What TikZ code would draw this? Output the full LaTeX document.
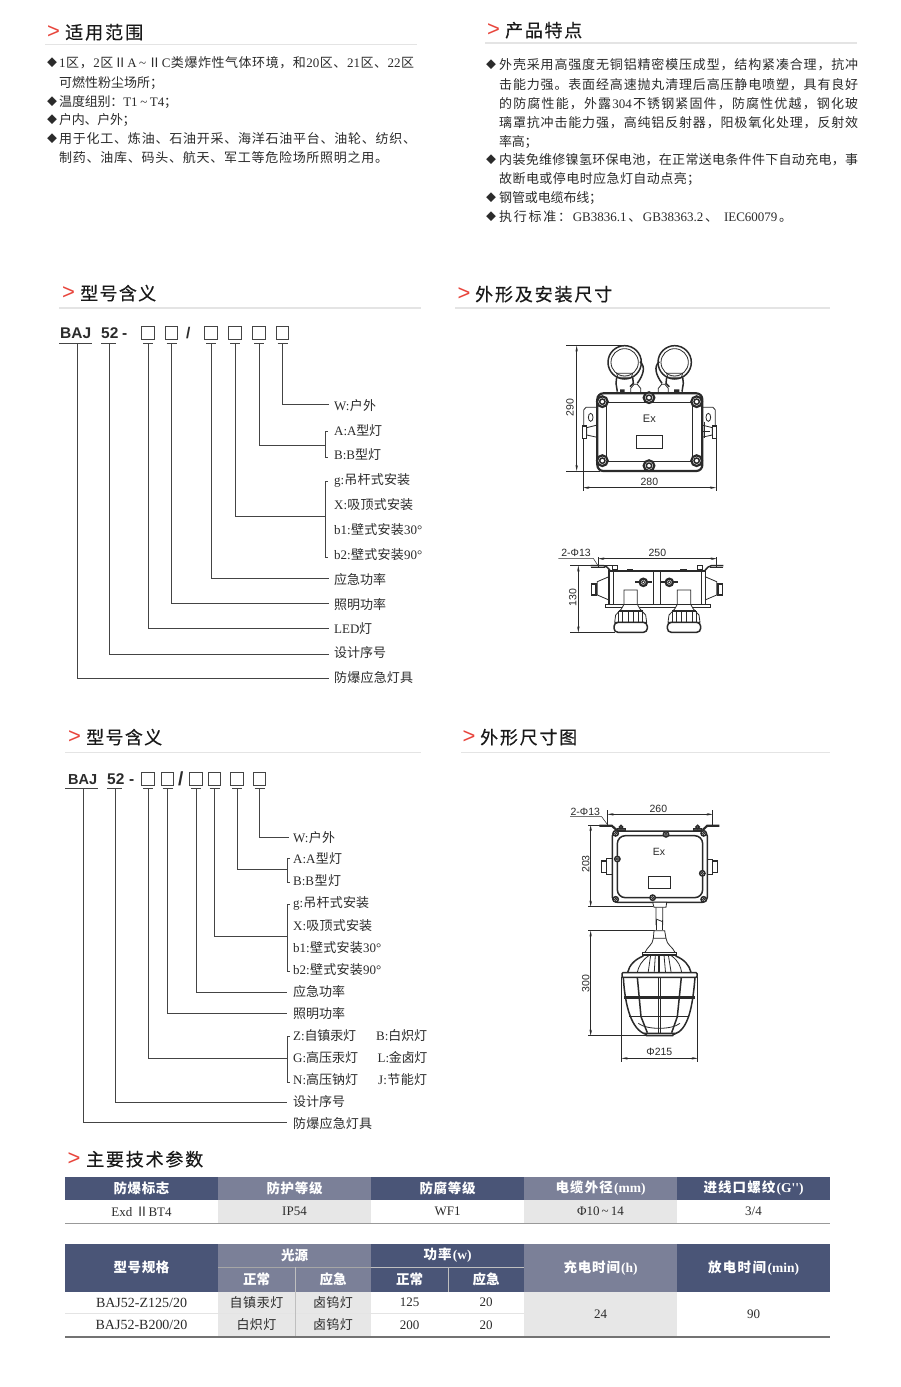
\documentclass[tikz,border=0pt]{standalone}
\usepackage{fontspec}
\usetikzlibrary{arrows.meta}
\setmainfont{Liberation Serif}[Ligatures=TeXOff]
\setsansfont{Liberation Sans}
\newfontfamily\cjk{Noto Sans CJK SC}
\newfontfamily\cjkt{Noto Sans CJK SC}[FakeBold=0.35]
\hbadness=10000 \hfuzz=20pt
\newXeTeXintercharclass\cjkcl
\newcount\ccn
\newcommand\setclassrange[3]{\ccn=#1\relax\loop\XeTeXcharclass\ccn=#3\relax\ifnum\ccn<#2\relax\advance\ccn by 1\repeat}
\setclassrange{"20}{"24F}{0}
\setclassrange{"370}{"3FF}{0}
\setclassrange{"3000}{"30FF}{\cjkcl}
\setclassrange{"4E00}{"9FFF}{\cjkcl}
\setclassrange{"FF00}{"FFEF}{\cjkcl}
\XeTeXcharclass"2161=\cjkcl
\XeTeXcharclass"25C6=\cjkcl
\XeTeXinterchartoks 0 \cjkcl={\cjk\hskip 0pt plus 1pt minus .3pt\relax}
\XeTeXinterchartoks \cjkcl 0={\rmfamily\hskip 0pt plus 1pt minus .3pt\relax}
\XeTeXinterchartoks \cjkcl \cjkcl={\hskip 0pt plus 1pt minus .3pt\relax}
\XeTeXinterchartoks 4095 \cjkcl={\cjk}
\XeTeXinterchartoks \cjkcl 4095={\rmfamily}
\XeTeXinterchartokenstate=1
\definecolor{hd}{HTML}{4A5577}
\definecolor{hm}{HTML}{7B8098}
\definecolor{cg}{HTML}{E7E7E7}
\definecolor{rl}{HTML}{E4E4E4}
\definecolor{red1}{HTML}{E8453C}
\definecolor{tx}{HTML}{2B2B2B}
\definecolor{wire}{HTML}{444444}
\definecolor{art}{HTML}{2A2A2A}
\tikzset{
  bodytxt/.style={anchor=base west,inner sep=0pt,text=tx,font=\fontsize{13}{14}\selectfont},
  diatxt/.style={anchor=center,inner sep=0pt,text=tx,font=\fontsize{10}{11}\selectfont},
  labtxt/.style={anchor=base west,inner sep=0pt,text=tx,font=\fontsize{13}{14}\selectfont},
  ttl/.style={anchor=base west,inner sep=0pt,text=black!90,font=\let\cjk\cjkt\fontsize{18}{19}\selectfont},
  gt/.style={anchor=center,inner sep=0pt,text=red1,font=\sffamily\fontsize{22}{22}\selectfont},
  rul/.style={draw=rl,line width=1.4pt},
  mbox/.style={draw=wire,line width=1pt,fill=white,minimum size=12.5pt,inner sep=0pt},
  bold/.style={anchor=base west,inner sep=0pt,text=tx,font=\sffamily\bfseries\fontsize{15.5}{16}\selectfont},
  conn/.style={draw=wire,line width=1pt},
  ul/.style={draw=wire,line width=1pt},
  cellb/.style={anchor=north west,inner sep=0pt,outer sep=0pt,draw=none,text=tx,font=\fontsize{13}{14}\selectfont},
  hdc/.style={cellb,text=white,font=\bfseries\fontsize{13.5}{14}\selectfont},
  dimt/.style={inner sep=0pt,text=art,font=\sffamily\fontsize{10.5}{11}\selectfont},
  dimn/.style={draw=art,line width=.5pt},
  dima/.style={draw=art,line width=.5pt,{Stealth[length=6pt,width=2.4pt]}-{Stealth[length=6pt,width=2.4pt]}},
  art1/.style={draw=art,line width=.8pt},
  art2/.style={draw=art,line width=1.5pt},
  art3/.style={draw=art,line width=2.2pt},
}
\newcommand\ls[2]{\hbox to #1pt{#2}}
% name x ycentre width text
\newcommand\tl[5]{\node[bodytxt] (#1) at (#2,#3+4.6) {\ls{#4}{#5}};}
\newcommand\dia[3]{\node[diatxt] (#1) at (#2,#3) {◆};}
\newcommand\lab[5]{\node[labtxt] (#1) at (#2,#3+4.6) {\ls{#4}{#5}};}
% name xgt ygt xtext width text
\newcommand\sect[6]{\node[gt] (#1g) at (#2,#3) {>};\node[ttl] (#1) at (#4,#3+7) {\ls{#5}{#6}};}
\newcommand\brk[3]{\draw[conn] (#1+3,#2) -- (#1,#2) -- (#1,#3) -- (#1+3,#3);}
% name x0 y0 x1 y1 style fill text
\newcommand\cell[8]{\pgfmathsetmacro\cw{#4-#2}\pgfmathsetmacro\ch{#5-#3}\node[#6,fill=#7,minimum width=\cw pt,minimum height=\ch pt] (#1) at (#2,#3) {#8};}
\begin{document}
\begin{tikzpicture}[x=1pt,y=-1pt]
\useasboundingbox (0,0) rectangle (900,1387);
\fill[white] (0,0) rectangle (900,1387);
% ---------- section titles
\sect{s1}{53.5}{32}{65}{78}{适用范围}
\draw[rul] (45,44.5) -- (417,44.5);
\sect{s2}{493.5}{30}{505}{77}{产品特点}
\draw[rul] (485,43) -- (857,43);
\sect{s3}{68.5}{293}{80}{76}{型号含义}
\draw[rul] (59,308) -- (421,308);
\sect{s4}{464}{294}{475}{137}{外形及安装尺寸}
\draw[rul] (455,308) -- (830,308);
\sect{s5}{74.5}{737}{86}{76}{型号含义}
\draw[draw=rl,line width=1pt] (65,752) -- (421,752);
\sect{s6}{469}{737}{480}{97}{外形尺寸图}
\draw[draw=rl,line width=1pt] (461,752) -- (830,752);
\sect{s7}{74}{1159}{86}{117}{主要技术参数}
% ---------- left text
\dia{d1}{52}{63}\tl{a1}{59}{63}{355}{1区，2区ⅡA\,\textasciitilde\,ⅡC类爆炸性气体环境，和20区、21区、22区}
\tl{a2}{59}{83}{104}{可燃性粉尘场所；}
\dia{d2}{52}{102}\tl{a3}{59}{102}{118}{温度组别：T1 \textasciitilde{} T4；}
\dia{d3}{52}{120}\tl{a4}{59}{120}{76}{户内、户外；}
\dia{d4}{52}{139}\tl{a5}{59}{139}{357}{用于化工、炼油、石油开采、海洋石油平台、油轮、纺织、}
\tl{a6}{59}{158}{329}{制药、油库、码头、航天、军工等危险场所照明之用。}
% ---------- right text
\dia{e1}{491}{65}\tl{b1}{499}{65}{359}{外壳采用高强度无铜铝精密模压成型，结构紧凑合理，抗冲}
\tl{b2}{499}{85}{359}{击能力强。表面经高速抛丸清理后高压静电喷塑，具有良好}
\tl{b3}{499}{104}{359}{的防腐性能，外露304不锈钢紧固件，防腐性优越，钢化玻}
\tl{b4}{499}{123}{359}{璃罩抗冲击能力强，高纯铝反射器，阳极氧化处理，反射效}
\tl{b5}{499}{142}{34}{率高；}
\dia{e2}{491}{160}\tl{b6}{499}{160}{359}{内装免维修镍氢环保电池，在正常送电条件件下自动充电，事}
\tl{b7}{499}{179}{201}{故断电或停电时应急灯自动点亮；}
\dia{e3}{491}{198}\tl{b8}{499}{198}{103}{钢管或电缆布线；}
\dia{e4}{491}{217}\tl{b9}{499}{217}{293}{执行标准：GB3836.1、GB38363.2、 IEC60079。}
% ---------- model 1
\node[bold] (m1baj) at (60,338.5) {BAJ};
\node[bold] (m152) at (101,338.5) {52};
\node[bold] (m1dash) at (122,338.5) {-};
\node[bold] (m1sl) at (186,338.5) {/};
\foreach \n/\x in {p1/148,p2/171.5,p3/211,p4/235,p5/259,p6/282.5}
  \node[mbox] (\n) at (\x,333) {};
\coordinate (u00) at (109.5,343);
\coordinate (u0) at (77,343);
\draw[ul] (59,343) -- (92,343);
\draw[ul] (101,343) -- (116,343);
\foreach \n in {p1,p2,p3,p4,p5,p6}
  \draw[ul] ([xshift=-5pt,yshift=-3.5pt]\n.south) -- ([xshift=5pt,yshift=-3.5pt]\n.south);
\lab{q1}{334}{406}{42}{W:户外}
\lab{q2}{334}{431}{48}{A:A型灯}
\lab{q3}{334}{455}{47}{B:B型灯}
\lab{q4}{334}{480}{76}{g:吊杆式安装}
\lab{q5}{334}{505}{79}{X:吸顶式安装}
\lab{q6}{334}{530}{88}{b1:壁式安装30°}
\lab{q7}{334}{555}{88}{b2:壁式安装90°}
\lab{q8}{334}{580}{52}{应急功率}
\lab{q9}{334}{605}{52}{照明功率}
\lab{q10}{334}{629}{38}{LED灯}
\lab{q11}{334}{653}{52}{设计序号}
\lab{q12}{334}{678}{79}{防爆应急灯具}
\coordinate (c1) at (329,404);
\coordinate (c2) at (325,445);
\coordinate (c3) at (325,516);
\coordinate (c4) at (329,578);
\coordinate (c5) at (329,603);
\coordinate (c6) at (329,628);
\coordinate (c7) at (329,654);
\coordinate (c8) at (329,678);
\brk{325}{431.7}{457}
\brk{325}{481}{557}
\draw[conn] ([yshift=-3.5pt]p6.south) |- (c1);
\draw[conn] ([yshift=-3.5pt]p5.south) |- (c2);
\draw[conn] ([yshift=-3.5pt]p4.south) |- (c3);
\draw[conn] ([yshift=-3.5pt]p3.south) |- (c4);
\draw[conn] ([yshift=-3.5pt]p2.south) |- (c5);
\draw[conn] ([yshift=-3.5pt]p1.south) |- (c6);
\draw[conn] (u00) |- (c7);
\draw[conn] (u0) |- (c8);
% ---------- model 2
\node[bold,font=\sffamily\bfseries\fontsize{14.5}{16}\selectfont] (m2baj) at (68,784.5) {BAJ};
\node[bold] (m252) at (107,784.5) {52};
\node[bold] (m2dash) at (129,784.5) {-};
\node[bold,font=\sffamily\bfseries\fontsize{19}{20}\selectfont] (m2sl) at (178,785.5) {/};
\foreach \n/\x in {r1/148,r2/167.5,r3/196,r4/214.5,r5/237,r6/259.5}
  \node[mbox] (\n) at (\x,779) {};
\coordinate (u2) at (115.5,788);
\coordinate (u3) at (83,788);
\draw[ul] (65,788) -- (98,788);
\draw[ul] (107,788) -- (122,788);
\foreach \n in {r1,r2,r3,r4,r5,r6}
  \draw[ul] ([xshift=-5pt,yshift=-2.5pt]\n.south) -- ([xshift=5pt,yshift=-2.5pt]\n.south);
\lab{t1}{293}{838}{42}{W:户外}
\lab{t2}{293}{859}{49}{A:A型灯}
\lab{t3}{293}{881}{48}{B:B型灯}
\lab{t4}{293}{903}{76}{g:吊杆式安装}
\lab{t5}{293}{926}{79}{X:吸顶式安装}
\lab{t6}{293}{948}{88}{b1:壁式安装30°}
\lab{t7}{293}{970}{88}{b2:壁式安装90°}
\lab{t8}{293}{992}{52}{应急功率}
\lab{t9}{293}{1014}{52}{照明功率}
\lab{t10}{293}{1036}{63}{Z:自镇汞灯}
\lab{t11}{293}{1058}{65}{G:高压汞灯}
\lab{t12}{293}{1080}{65}{N:高压钠灯}
\lab{t13}{376}{1036}{51}{B:白炽灯}
\lab{t14}{377.5}{1058}{49.5}{L:金卤灯}
\lab{t15}{378}{1080}{49}{J:节能灯}
\lab{t16}{293}{1102}{52}{设计序号}
\lab{t17}{293}{1124}{79}{防爆应急灯具}
\coordinate (k1) at (289,837);
\coordinate (k2) at (287,869);
\coordinate (k3) at (287,936);
\coordinate (k4) at (287,992);
\coordinate (k5) at (287,1013);
\coordinate (k6) at (287,1058);
\coordinate (k7) at (287,1102);
\coordinate (k8) at (287,1122);
\brk{287}{858}{882}
\brk{287}{904}{971}
\brk{287}{1036}{1082}
\draw[conn] ([yshift=-2.5pt]r6.south) |- (k1);
\draw[conn] ([yshift=-2.5pt]r5.south) |- (k2);
\draw[conn] ([yshift=-2.5pt]r4.south) |- (k3);
\draw[conn] ([yshift=-2.5pt]r3.south) |- (k4);
\draw[conn] ([yshift=-2.5pt]r2.south) |- (k5);
\draw[conn] ([yshift=-2.5pt]r1.south) |- (k6);
\draw[conn] (u2) |- (k7);
\draw[conn] (u3) |- (k8);
% ---------- figure 1
\begin{scope}[shift={(540,330)},x=.33333pt,y=-.33333pt]
\draw[dimn] (78,47) -- (250,47) (78,423) -- (180,423) (130,290) -- (130,482) (528,290) -- (528,482);
\draw[dima] (110,47) -- (110,423);
\draw[dima] (130,473) -- (528,473);
\node[dimt,rotate=90] (f1a) at (90,232) {290};
\node[dimt] (f1b) at (328,456) {280};
\foreach \c in {254,404}{
  \draw[art2,fill=white] (\c,97) circle (50);
  \draw[art1] (\c,97) circle (41);
  \draw[art1] (\c-24,130) -- (\c+24,130) -- (\c+20,142) -- (\c-20,142) -- cycle;
}
\draw[art2] (230,142) -- (228,160) -- (232,185) (278,142) -- (280,160) -- (270,170);
\draw[art2] (428,142) -- (430,160) -- (426,185) (380,142) -- (378,160) -- (388,170);
\draw[art2] (300,95) .. controls (318,110) and (310,135) .. (292,160);
\draw[art2] (358,95) .. controls (340,110) and (348,135) .. (366,160);
\draw[art1,fill=white] (272,188) -- (272,175) -- (282,163) -- (292,163) -- (302,175) -- (302,188);
\draw[art1,fill=white] (355,188) -- (355,175) -- (365,163) -- (375,163) -- (385,175) -- (385,188);
\fill[art] (240,178) rectangle (254,190) (402,178) rectangle (418,190);
\foreach \t in {0,1}{
\begin{scope}[shift={(\t*657,0)},xscale={1-2*\t}]
\draw[art1] (172,232) -- (138,232) -- (131,240) -- (131,290);
\draw[art1] (152,262) ellipse (7 and 12);
\draw[art1,fill=white] (140,293) -- (172,285) -- (172,322) -- (140,315) -- cycle;
\draw[art2,fill=white] (127,288) rectangle (140,325);
\end{scope}}
\draw[art1] (468,305) -- (510,305) (492,275) -- (492,325);
\draw[art3,fill=white,rounded corners=6pt] (172,190) rectangle (487,423);
\draw[art2] (200,218) rectangle (458,395);
\foreach \bx/\by in {187/215,470/215,187/392,470/392,327/203,327/407}{
  \draw[art3,fill=white] (\bx,\by) circle (16);
  \draw[art2] (\bx,\by) circle (8);
}
\node[dimt,font=\sffamily\fontsize{11}{12}\selectfont] (f1ex) at (328,266) {Ex};
\draw[art1] (290,315) rectangle (367,354);
\end{scope}
% ---------- figure 2
\begin{scope}[shift={(540,535)},x=.33333pt,y=-.33333pt]
\node[dimt] (f2a) at (108,55) {2-Φ13};
\node[dimt] (f2b) at (352,55) {250};
\node[dimt,rotate=90] (f2c) at (98,188) {130};
\draw[dimn] (55,70) -- (160,70) -- (177,97);
\draw[dimn] (175,66) -- (175,100) (530,66) -- (530,100) (90,92) -- (215,92) (90,292) -- (225,292);
\draw[dima] (175,71) -- (530,71);
\draw[dima] (115,92) -- (115,292);
\draw[art2] (207,108) rectangle (497,208);
\draw[art1] (220,108) -- (220,208) (485,108) -- (485,208) (340,108) -- (340,208) (360,108) -- (360,208);
\draw[art1] (195,208) rectangle (510,218);
\draw[art2,rounded corners=2pt] (152,92) -- (197,92) -- (210,106);
\draw[art2,rounded corners=2pt] (550,92) -- (508,92) -- (495,106);
\draw[art1] (152,98) -- (195,98) (550,98) -- (510,98);
\foreach \x in {225,480}{\draw[art1,fill=white] (\x-7,92) rectangle (\x+7,104);}
\foreach \x in {270,430}{\draw[art1] (\x-8,104) rectangle (\x+8,108);}
\foreach \x in {310,388}{
  \fill[art] (\x-25,139) rectangle (\x+25,145);
  \draw[art3,fill=white] (\x,142) circle (11);
  \draw[art1] (\x,142) circle (5);
}
\foreach \t in {0,1}{
\begin{scope}[shift={(\t*702,0)},xscale={1-2*\t}]
\draw[art1] (207,125) -- (172,140) -- (172,180) -- (207,195);
\draw[art2,fill=white] (155,147) rectangle (168,180);
\draw[art1] (168,152) -- (172,152) (168,175) -- (172,175);
\end{scope}}
\foreach \c in {272,432}{
\begin{scope}[shift={(\c,0)}]
\draw[art1,fill=white] (-20,165) -- (20,165) -- (20,208) -- (28,222) -- (45,240) -- (48,262) -- (-48,262) -- (-45,240) -- (-28,222) -- (-20,208) -- cycle;
\draw[art1] (-20,208) -- (20,208);
\foreach \r in {-36,-24,-8,8,24,36}{\draw[art1] (\r,228) -- (\r,262);}
\draw[art2] (-36,228) -- (36,228);
\draw[art2] (-48,262) -- (48,262);
\draw[art2,fill=white,rounded corners=4pt] (-50,262) rectangle (50,292);
\end{scope}}
\end{scope}
% ---------- figure 3
\begin{scope}[shift={(560,795)},x=.33333pt,y=-.33333pt]
\node[dimt] (f3a) at (76,52) {2-Φ13};
\node[dimt] (f3b) at (295,43) {260};
\node[dimt,rotate=90] (f3c) at (77,207) {203};
\draw[dimn] (30,65) -- (125,65) -- (147,95);
\draw[dimn] (143,45) -- (143,95) (458,45) -- (458,95) (85,90) -- (160,90) (85,335) -- (280,335);
\draw[dima] (143,58) -- (458,58);
\draw[dima] (92,90) -- (92,335);
\draw[art2,fill=white,rounded corners=5pt] (157,108) rectangle (442,322);
\draw[art2,rounded corners=8pt] (172,122) rectangle (428,308);
\draw[art3] (118,92) -- (155,92) -- (170,105);
\draw[art3] (478,92) -- (442,92) -- (428,105);
\foreach \x in {183,413}{\draw[art1,fill=black!70] (\x-12,101) rectangle (\x+12,106);\draw[art2,fill=white] (\x,96) circle (5);}
\foreach \bx/\by in {167/115,318/118,431/115,167/313,431/313,172/192,427/235,278/308}{
  \draw[art2,fill=white] (\bx,\by) circle (8);
  \draw[art1] (\bx,\by) circle (3.5);
}
\draw[art1] (157,190) -- (140,190) -- (140,237) -- (157,237);
\draw[art2,fill=white] (125,198) rectangle (140,232);
\draw[art1] (442,192) -- (458,192) -- (458,238) -- (442,238);
\draw[art2,fill=white] (458,198) rectangle (472,232);
\node[dimt] (f3ex) at (297,170) {Ex};
\draw[art1] (265,245) rectangle (332,280);
\draw[art1,fill=white] (278,322) -- (320,322) -- (318,337) -- (282,337) -- cycle;
\draw[art1] (288,337) -- (288,390) (308,337) -- (308,390) (288,372) -- (308,380);
\end{scope}
% ---------- figure 4
\begin{scope}[shift={(560,920)},x=.33333pt,y=-.33333pt]
\node[dimt,rotate=90] (f4a) at (77,190) {300};
\node[dimt] (f4b) at (298,397) {Φ215};
\draw[dimn] (85,32) -- (285,32) (85,347) -- (260,347) (185,172) -- (185,425) (413,172) -- (413,425);
\draw[dima] (92,32) -- (92,347);
\draw[dima] (185,415) -- (413,415);
\draw[art1] (288,0) -- (288,30) (308,0) -- (308,30);
\draw[art1,fill=white] (282,32) -- (314,32) -- (318,55) -- (280,55) -- cycle;
\draw[art1] (280,55) .. controls (278,75) and (262,80) .. (255,97);
\draw[art1] (318,55) .. controls (320,75) and (338,80) .. (345,97);
\draw[art2] (190,172) .. controls (195,260) and (215,330) .. (258,343);
\draw[art2] (405,172) .. controls (398,260) and (385,330) .. (342,343);
\draw[art2] (250,108) .. controls (225,118) and (208,135) .. (203,157);
\draw[art2] (347,108) .. controls (372,118) and (388,135) .. (393,157);
\draw[art1] (265,108) .. controls (245,122) and (235,140) .. (232,157);
\draw[art1] (335,108) .. controls (355,122) and (362,140) .. (365,157);
\foreach \x in {272,286,312,325}{\draw[art1] (\x,105) -- (\x+.3*\x-.3*297,157);}
\draw[art2] (297,105) -- (297,157);
\draw[art2,fill=white] (247,97) rectangle (350,105);
\draw[art2,fill=white,rounded corners=1pt] (186,158) rectangle (411,172);
\draw[art2] (193,232) -- (404,232);
\draw[art1] (193,228) -- (404,228) (193,236) -- (404,236);
\draw[art2] (208,290) -- (386,290);
\draw[art1] (295,172) -- (295,340) (300,172) -- (300,340);
\draw[art2] (232,172) -- (243,290) -- (262,338);
\draw[art2] (364,172) -- (352,290) -- (335,338);
\draw[art1] (235,310) .. controls (260,330) and (335,330) .. (360,310);
\draw[art2,fill=white] (256,340) -- (342,340) -- (338,347) -- (260,347) -- cycle;
\end{scope}
% ---------- table 1
\cell{h1}{65}{1177}{218}{1200}{hdc}{hd}{\ls{56}{防爆标志}}
\cell{h2}{218}{1177}{371}{1200}{hdc}{hm}{\ls{56}{防护等级}}
\cell{h3}{371}{1177}{524}{1200}{hdc}{hd}{\ls{56}{防腐等级}}
\cell{h4}{524}{1177}{677}{1200}{hdc}{hm}{\ls{90}{电缆外径(mm)}}
\cell{h5}{677}{1177}{830}{1200}{hdc}{hd}{\ls{100}{进线口螺纹(G'')}}
\cell{v1}{65}{1200}{218}{1223}{cellb}{white}{Exd ⅡBT4}
\cell{v2}{218}{1200}{371}{1223}{cellb}{cg}{IP54}
\cell{v3}{371}{1200}{524}{1223}{cellb}{white}{WF1}
\cell{v4}{524}{1200}{677}{1223}{cellb}{cg}{Φ10\,\textasciitilde\,14}
\cell{v5}{677}{1200}{830}{1223}{cellb}{white}{3/4}
\draw[draw=black!40,line width=1.5pt] (65,1223.5) -- (830,1223.5);
% ---------- table 2
\cell{x1}{65}{1244}{218}{1291.5}{hdc}{hd}{\ls{56}{型号规格}}
\cell{x2}{218}{1244}{371}{1267}{hdc}{hm}{\ls{27}{光源}}
\cell{x3}{371}{1244}{524}{1267}{hdc}{hd}{\ls{48}{功率(w)}}
\cell{x4}{524}{1244}{677}{1291.5}{hdc}{hm}{\ls{74}{充电时间(h)}}
\cell{x5}{677}{1244}{830}{1291.5}{hdc}{hd}{\ls{91}{放电时间(min)}}
\cell{x6}{218}{1267}{295}{1291.5}{hdc}{hm}{\ls{27}{正常}}
\cell{x7}{295}{1267}{371}{1291.5}{hdc}{hm}{\ls{27}{应急}}
\cell{x8}{371}{1267}{448}{1291.5}{hdc}{hd}{\ls{27}{正常}}
\cell{x9}{448}{1267}{524}{1291.5}{hdc}{hd}{\ls{27}{应急}}
\cell{y1}{65}{1291.5}{218}{1313.5}{cellb,font=\fontsize{14}{14}\selectfont}{white}{BAJ52-Z125/20}
\cell{y2}{218}{1291.5}{295}{1313.5}{cellb}{cg}{\ls{54}{自镇汞灯}}
\cell{y3}{295}{1291.5}{371}{1313.5}{cellb}{cg}{\ls{40}{卤钨灯}}
\cell{y4}{371}{1291.5}{448}{1313.5}{cellb}{white}{125}
\cell{y5}{448}{1291.5}{524}{1313.5}{cellb}{white}{20}
\cell{z1}{65}{1313.5}{218}{1336}{cellb,font=\fontsize{14}{14}\selectfont}{white}{BAJ52-B200/20}
\cell{z2}{218}{1313.5}{295}{1336}{cellb}{cg}{\ls{40}{白炽灯}}
\cell{z3}{295}{1313.5}{371}{1336}{cellb}{cg}{\ls{40}{卤钨灯}}
\cell{z4}{371}{1313.5}{448}{1336}{cellb}{white}{200}
\cell{z5}{448}{1313.5}{524}{1336}{cellb}{white}{20}
\cell{y6}{524}{1291.5}{677}{1336}{cellb}{cg}{24}
\cell{y7}{677}{1291.5}{830}{1336}{cellb}{white}{90}
\draw[draw=rl,line width=1.6pt] (65,1313.5) -- (524,1313.5);
\draw[draw=black!35,line width=.8pt] (218,1267) -- (371,1267);
\draw[draw=black!25,line width=.8pt] (371,1267) -- (524,1267);
\draw[draw=black!25,line width=.8pt] (295,1267) -- (295,1336) (448,1267) -- (448,1291.5);
\draw[draw=black!55,line width=2pt] (65,1336.5) -- (830,1336.5);
\end{tikzpicture}
\end{document}
